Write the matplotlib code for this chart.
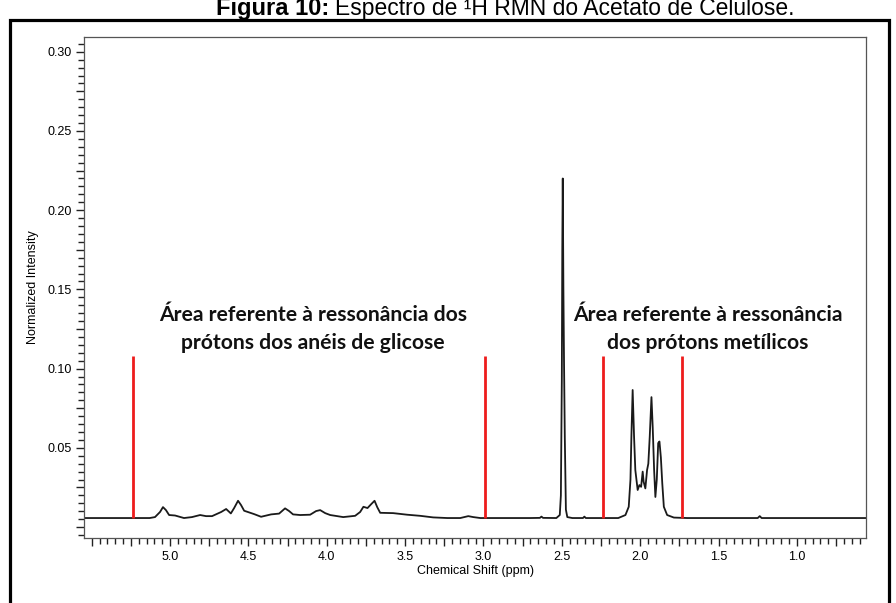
import matplotlib
matplotlib.use("Agg")
import matplotlib.pyplot as plt
from matplotlib.patches import Rectangle
from matplotlib.ticker import MultipleLocator, FuncFormatter

plt.rcParams["font.family"] = ["Liberation Sans", "DejaVu Sans"]

# 1H NMR trace of cellulose acetate (ppm, normalized intensity)
shift_ppm = [
    5.55, 5.30, 5.13, 5.096, 5.064, 5.045, 5.026, 5.006, 4.968, 4.911,
    4.860, 4.808, 4.770, 4.732, 4.674, 4.642, 4.612, 4.591, 4.566, 4.547,
    4.527, 4.464, 4.419, 4.355, 4.304, 4.266, 4.240, 4.215, 4.170, 4.106,
    4.068, 4.042, 4.010, 3.978, 3.895, 3.819, 3.787, 3.766, 3.740, 3.716,
    3.695, 3.678, 3.659, 3.576, 3.487, 3.404, 3.321, 3.231, 3.148, 3.097,
    3.065, 3.020, 2.700, 2.640, 2.630, 2.620, 2.535, 2.513, 2.506, 2.500,
    2.497, 2.494, 2.490, 2.486, 2.481, 2.474, 2.465, 2.433, 2.365, 2.356,
    2.347, 2.140, 2.094, 2.073, 2.062, 2.056, 2.048, 2.039, 2.031, 2.016,
    2.005, 1.994, 1.984, 1.978, 1.967, 1.956, 1.948, 1.939, 1.928, 1.920,
    1.911, 1.903, 1.894, 1.885, 1.877, 1.868, 1.859, 1.849, 1.828, 1.785,
    1.700, 1.250, 1.237, 1.225, 0.56,
]
intensity = [
    0.0057, 0.0057, 0.0057, 0.0063, 0.0095, 0.0126, 0.0107, 0.0076, 0.0073, 0.0057,
    0.0063, 0.0076, 0.0069, 0.0069, 0.0095, 0.0114, 0.0086, 0.0120, 0.0166, 0.0139,
    0.0103, 0.0082, 0.0065, 0.0080, 0.0085, 0.0118, 0.0101, 0.0080, 0.0076, 0.0078,
    0.0101, 0.0107, 0.0088, 0.0076, 0.0063, 0.0071, 0.0095, 0.0128, 0.0120, 0.0145,
    0.0166, 0.0126, 0.0090, 0.0088, 0.0078, 0.0071, 0.0061, 0.0057, 0.0057, 0.0069,
    0.0063, 0.0057, 0.0057, 0.0058, 0.0066, 0.0058, 0.0057, 0.0076, 0.0200, 0.0930,
    0.1750, 0.2200, 0.1510, 0.1050, 0.0570, 0.0110, 0.0063, 0.0057, 0.0057, 0.0066,
    0.0057, 0.0057, 0.0076, 0.0128, 0.0300, 0.0570, 0.0865, 0.0570, 0.0360, 0.0234,
    0.0265, 0.0254, 0.0350, 0.0286, 0.0244, 0.0360, 0.0400, 0.0570, 0.0820, 0.0630,
    0.0360, 0.0190, 0.0300, 0.0530, 0.0540, 0.0440, 0.0276, 0.0128, 0.0076, 0.0060,
    0.0057, 0.0057, 0.0069, 0.0057, 0.0057,
]

# region boundaries (ppm) and their height
region_marks = [5.234, 2.988, 2.237, 1.735]
mark_bottom = 0.0057
mark_top = 0.108

region_labels = [
    (4.09, ["Área referente à ressonância dos", "prótons dos anéis de glicose"]),
    (1.568, ["Área referente à ressonância", "dos prótons metílicos"]),
]

# tick labels shown on each axis
x_labels = [5.0, 4.5, 4.0, 3.5, 3.0, 2.5, 2.0, 1.5, 1.0]
y_labels = [0.05, 0.10, 0.15, 0.20, 0.25, 0.30]

fig = plt.figure(figsize=(8.96, 6.03), dpi=100)
W, H = 896, 603

ax = fig.add_axes([84 / W, 1 - 538 / H, (866 - 84) / W, (538 - 37) / H])
ax.plot(shift_ppm, intensity, color="#1a1a1a", lw=1.3)
ax.vlines(region_marks, mark_bottom, mark_top, color="#ee1c1c", lw=2.0)

for x, lines in region_labels:
    ax.text(x, 0.1300, lines[0], ha="center", va="baseline", fontsize=15.2,
            fontweight="bold", family=["Lato", "DejaVu Sans"], color="#111111")
    ax.text(x, 0.1125, lines[1], ha="center", va="baseline", fontsize=15.2,
            fontweight="bold", family=["Lato", "DejaVu Sans"], color="#111111")

ax.set_xlim(5.549, 0.559)
ax.set_ylim(-0.0069, 0.3093)

ax.xaxis.set_major_locator(MultipleLocator(0.25))
ax.xaxis.set_minor_locator(MultipleLocator(0.05))
ax.yaxis.set_major_locator(MultipleLocator(0.025))
ax.yaxis.set_minor_locator(MultipleLocator(0.005))


def x_fmt(v, pos):
    for lab in x_labels:
        if abs(v - lab) < 1e-6:
            return f"{lab:.1f}"
    return ""


def y_fmt(v, pos):
    for lab in y_labels:
        if abs(v - lab) < 1e-6:
            return f"{lab:.2f}"
    return ""


ax.xaxis.set_major_formatter(FuncFormatter(x_fmt))
ax.yaxis.set_major_formatter(FuncFormatter(y_fmt))
ax.tick_params(which="major", direction="out", length=6, width=1.0,
               labelsize=9, color="#222222", pad=3)
ax.tick_params(which="minor", direction="out", length=4, width=1.0,
               color="#222222")

for s in ax.spines.values():
    s.set_color("#555555")
    s.set_linewidth(0.9)

ax.set_xlabel("Chemical Shift (ppm)", fontsize=9, labelpad=2)
ax.set_ylabel("Normalized Intensity", fontsize=9, labelpad=6)

# outer figure frame, open at the bottom
fig.patches.append(Rectangle((10 / W, -0.05), (889 - 10) / W, 1.05 - 20 / H,
                             transform=fig.transFigure, fill=False,
                             edgecolor="black", lw=2.3))

fig.text(329 / W, 1 - 15 / H, "Figura 10:", ha="right", va="baseline",
         fontsize=17, fontweight="bold")
fig.text(335 / W, 1 - 15 / H, "Espectro de ¹H RMN do Acetato de Celulose.",
         ha="left", va="baseline", fontsize=16.5)

fig.savefig("out.png", dpi=100)
